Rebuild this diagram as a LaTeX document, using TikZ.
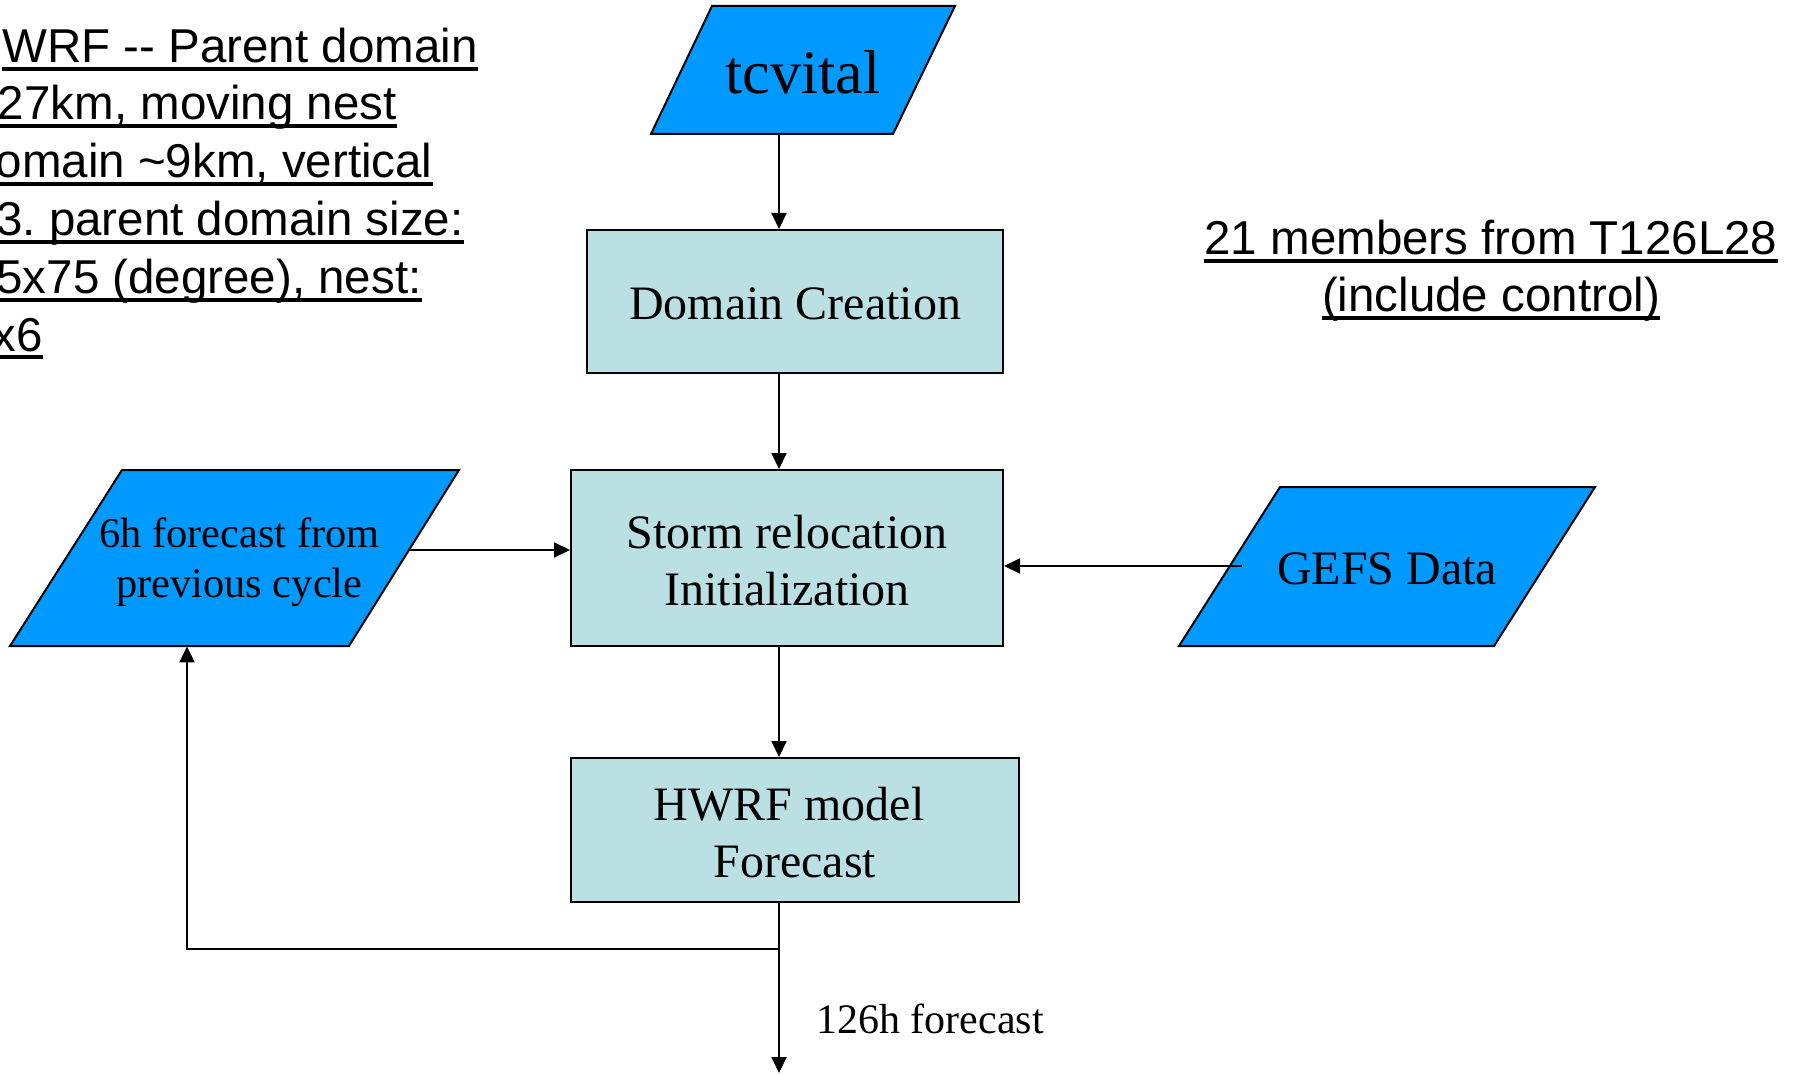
\documentclass[tikz,border=0pt]{standalone}
\usepackage{fontspec}
\setmainfont{Liberation Serif}
\newfontfamily\arialf{Liberation Sans}
\usetikzlibrary{arrows.meta,calc}
\definecolor{paraBlue}{HTML}{0099FF}
\definecolor{boxCyan}{HTML}{BBE0E3}
\frenchspacing
\begin{document}
\begin{tikzpicture}[x=0.5pt,y=-0.5pt,
  procbox/.style={draw=black,line width=1pt,fill=boxCyan,inner sep=0pt},
  boxtext/.style={inner sep=0pt,align=center,font=\fontsize{24}{28.5}\selectfont},
  para/.style={draw=black,line width=1pt,fill=paraBlue},
  ptext/.style={inner sep=0pt,align=center},
  arr/.style={line width=1pt,-{Triangle[length=8pt,width=7.5pt]}},
  ln/.style={line width=1pt},
  note/.style={inner sep=0pt,font=\arialf\fontsize{23.75}{28}\selectfont},
  ul/.style={line width=1.75pt}
]
\useasboundingbox (0,0) rectangle (1795,1075);

% process boxes
\node[procbox,minimum width=208pt,minimum height=71.5pt] (dom) at (795,301.5) {};
\node[boxtext] (domt) at ([yshift=-1.3pt]dom.center) {Domain Creation};
\node[procbox,minimum width=216pt,minimum height=88pt] (storm) at (787,558) {};
\node[boxtext] (stormt) at ([yshift=-1.3pt]storm.center) {Storm relocation\\Initialization};
\node[procbox,minimum width=224pt,minimum height=72pt] (hwrf) at (795,830) {};
\node[boxtext] (hwrft) at ([yshift=-1.3pt]hwrf.center) {HWRF model\hspace*{0.25em}\\Forecast};

% data parallelograms
\draw[para] (712,6) -- (955,6) -- (893,134) -- (651,134) -- cycle;
\node[ptext,minimum height=64pt] (tcv) at (803,70) {};
\node[ptext,font=\fontsize{31}{37}\selectfont] (tcvt) at ([yshift=-1.2pt]tcv.center) {tcvital};

\draw[para] (122,470) -- (459,470) -- (349,646) -- (10,646) -- cycle;
\node[ptext,minimum height=88pt] (six) at (236,558) {};
\node[ptext,font=\fontsize{21.2}{25}\selectfont] (sixt) at ([yshift=-2.3pt,xshift=1.7pt]six.center) {6h forecast from\\previous cycle};

\draw[para] (1280,487) -- (1595,487) -- (1494,646) -- (1179,646) -- cycle;
\node[ptext,minimum height=79.5pt] (gefs) at (1387,566.5) {};
\node[boxtext] (gefst) at ([yshift=-1.2pt]gefs.center) {GEFS Data};

% connectors
\coordinate (spine) at (779,0);
\coordinate (fbx) at (187,0);
\coordinate (sixout) at (410,550);
\coordinate (gefsout) at (1242,566);
\coordinate (fbjoin) at (779,949);
\coordinate (outend) at (779,1073);

\draw[arr] (tcv.south -| spine) -- (dom.north -| spine);
\draw[arr] (dom.south -| spine) -- (storm.north -| spine);
\draw[arr] (storm.south -| spine) -- (hwrf.north -| spine);
\draw[arr] (sixout) -- (sixout -| storm.west);
\draw[arr] (gefsout) -- (gefsout -| storm.east);
\draw[arr] (hwrf.south -| spine) -- (outend);
\draw[arr] (fbjoin) -| (six.south -| fbx);

\node[inner sep=0pt,anchor=base west,font=\fontsize{21}{25}\selectfont] (lbl) at (816,1033) {126h forecast};

% left note (clipped at the page edge, as in the original)
\node[note,anchor=base east] (n1) at (478,63) {WRF -{}- Parent domain};
\node[note,anchor=base east] (n2) at (397,120) {27km, moving nest};
\node[note,anchor=base east] (n3) at (433,178) {omain \textasciitilde9km, vertical};
\node[note,anchor=base east] (n4) at (464,236) {3. parent domain size:};
\node[note,anchor=base east] (n5) at (422,294) {5x75 (degree), nest:};
\node[note,anchor=base east] (n6) at (43,351) {x6};
\foreach \n in {n1,n2,n3,n4,n5,n6}
  \draw[ul] ([yshift=-3pt]\n.base west) -- ([yshift=-3pt]\n.base east);

% right note
\node[note,anchor=base] (r1) at (1491,255) {21 members from T126L28};
\node[note,anchor=base] (r2) at (1491,312) {(include control)};
\foreach \n in {r1,r2}
  \draw[ul] ([yshift=-3pt]\n.base west) -- ([yshift=-3pt]\n.base east);
\end{tikzpicture}
\end{document}
